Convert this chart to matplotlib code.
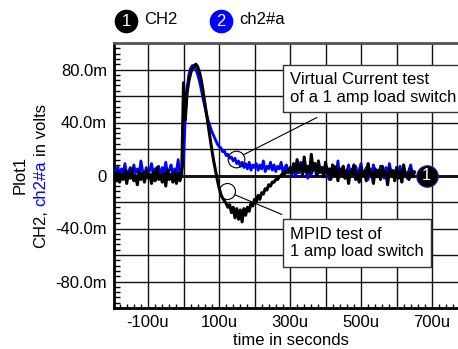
import numpy as np
import matplotlib
matplotlib.use('Agg')
import matplotlib.pyplot as plt
from matplotlib.ticker import MultipleLocator, FuncFormatter

plt.rcParams['font.family'] = ['Liberation Sans', 'DejaVu Sans']

# sample grid in microseconds, 5u steps from -195u to 650u
t_us = np.arange(-195, 651, 5)

# CH2 (black), values in mV
ch2 = [2, -4, 3, -5, 1, -3, 4, -6, 2, -2, 5, -4, 0, -7, 3, -3, 2, -5, 4, -2,
       1, -6, 3, -4, 6, -3, 0, -5, 2, -8, 4, -3, 1, -5, 3, -6, 2, -4, 1,
       70, 42, 62, 71, 77, 81, 83, 84, 82, 78, 72, 64, 55, 46, 37, 28, 19, 11, 4, -3,
       -9, -14, -17, -19, -21, -24, -22, -28, -24, -32, -25, -33, -26, -35, -25, -30, -24, -27, -21, -23,
       -18, -20, -15, -18, -13, -14, -10, -11, -7, -8, -5, -5, -3, -3, -1, 0, 2, 1, 4, 2,
       6, 2, 9, 3, 12, 4, 8, 1, 14, 3, 7, 2, 16, 4, 9, 0, 11, 3, 6, -1,
       10, 2, 5, -3, 8, 0, 6, -4, 5, 1, 7, -2, 4, -6, 3, 1, 8, -3, 2, -5,
       6, 0, 3, -4, 9, 1, 2, -6, 5, -1, 4, -3, 7, 0, 2, -7, 5, 1, 3, -4,
       6, -2, 3, -5, 8, 0, 2, -3, 5, -1, 2]

# ch2#a (blue), values in mV
ch2a = [4, 1, 7, -1, 5, 2, 9, 0, 3, 6, -2, 8, 2, 5, 1, 11, 3, -1, 6, 2,
        4, 9, 0, 5, 3, 7, -2, 6, 2, 10, 1, 4, 8, 0, 5, 3, 12, 1, 4,
        10, 45, 66, 76, 81, 83, 82, 80, 76, 71, 65, 58, 52, 46, 41, 37, 33, 30, 27, 24,
        22, 21, 18, 19, 15, 16, 13, 14, 11, 13, 9, 11, 7, 10, 6, 9, 5, 10, 4, 8,
        6, 9, 4, 8, 5, 11, 3, 7, 5, 10, 4, 8, 3, 7, 5, 10, 3, 6, 8, 2,
        5, 1, 8, -1, 4, 2, 10, 0, 6, 3, -2, 7, 1, 5, 9, -1, 4, 2, 6, 0,
        8, 3, -3, 5, 1, 7, 2, 11, 0, 4, 6, -2, 3, 8, 1, 5, -1, 7, 2, 4,
        9, 0, 3, 6, -3, 5, 1, 8, 2, 4, 0, 7, 3, -2, 6, 1, 9, 2, 4, -1,
        5, 3, 7, 0, 6, 2, -2, 4, 8, 1, 3]

x_labels = ['-100u', '100u', '300u', '500u', '700u']
y_labels = ['-80.0m', '-40.0m', '0', '40.0m', '80.0m']

t = t_us * 1e-6
v1 = np.array(ch2) * 1e-3
v2 = np.array(ch2a) * 1e-3

W, H = 458, 349
fig = plt.figure(figsize=(W / 100, H / 100), dpi=100)
ax = fig.add_axes([114 / W, 1 - 308 / H, 353.5 / W, 265 / H])
ax.set_xlim(-195.8e-6, 800e-6)
ax.set_ylim(-0.1, 0.1)

# grid
ax.xaxis.set_major_locator(MultipleLocator(100e-6))
ax.yaxis.set_major_locator(MultipleLocator(0.02))
ax.xaxis.set_minor_locator(MultipleLocator(20e-6))
ax.yaxis.set_minor_locator(MultipleLocator(0.004))
ax.grid(True, which='major', color='#111111', lw=1.0)
ax.axhline(0, color='black', lw=2, zorder=1.5)

def xfmt(v, pos):
    us = int(round(v * 1e6))
    s = '%du' % us
    return s if s in x_labels else ''

def yfmt(v, pos):
    mv = int(round(v * 1e3))
    s = '0' if mv == 0 else '%.1fm' % mv
    return s if s in y_labels else ''

ax.xaxis.set_major_formatter(FuncFormatter(xfmt))
ax.yaxis.set_major_formatter(FuncFormatter(yfmt))
ax.tick_params(which='major', length=0, labelsize=12, pad=5)
ax.tick_params(which='minor', direction='in', length=4, width=1, color='black')
ax.tick_params(axis='x', which='minor', length=3)
ax.tick_params(top=False, right=False, which='both')

for s in ['left', 'bottom']:
    ax.spines[s].set_linewidth(2)
ax.spines['top'].set_linewidth(2)
ax.spines['top'].set_color('#555555')
ax.spines['right'].set_visible(False)

# traces
ax.plot(t, v2, color='#0000ff', lw=2.0, zorder=3)
ax.plot(t, v1, color='black', lw=2.2, zorder=4)

# trace end label
lab_x = 685e-6
ax.plot([lab_x], [0], 'o', ms=15.5, mfc='black', mec='#2222aa', mew=0.8, zorder=6, clip_on=False)
ax.text(lab_x, 0, '1', color='white', ha='center', va='center', fontsize=12, zorder=7)

# callouts
ax.plot([148e-6], [0.0128], 'o', ms=12, mfc='none', mec='black', mew=0.8, zorder=5)
ax.plot([122e-6], [-0.012], 'o', ms=11.5, mfc='none', mec='black', mew=0.8, zorder=5)
ax.annotate('', xy=(148e-6, 0.0128), xytext=(376e-6, 0.0438),
            arrowprops=dict(arrowstyle='-', lw=0.8, color='black', shrinkA=0, shrinkB=6))
ax.annotate('', xy=(122e-6, -0.012), xytext=(277e-6, -0.0294),
            arrowprops=dict(arrowstyle='-', lw=0.8, color='black', shrinkA=0, shrinkB=6))
box = dict(boxstyle='square,pad=0.45', fc='white', ec='#333333', lw=1)
ax.text(300e-6, 0.0657, 'Virtual Current test\nof a 1 amp load switch', fontsize=12,
        ha='left', va='center', bbox=box, zorder=8, linespacing=1.2)
ax.text(300e-6, -0.051, 'MPID test of\n1 amp load switch', fontsize=12,
        ha='left', va='center', bbox=box, zorder=8, linespacing=1.2)

ax.set_xlabel('time in seconds', fontsize=12, labelpad=2)

# legend on top
for cx, col, num, name in [(126, 'black', '1', 'CH2'), (221, '#0000ff', '2', 'ch2#a')]:
    fig.lines.append(plt.Line2D([cx / W], [1 - 21 / H], marker='o', ms=16, color=col,
                                transform=fig.transFigure))
    fig.text(cx / W, 1 - 21 / H, num, color='white', ha='center', va='center', fontsize=12)
    fig.text((cx + 18) / W, 1 - 20 / H, name, color='black', ha='left', va='center', fontsize=12)

# y axis titles
fig.text(20 / W, 1 - 175 / H, 'Plot1', rotation=90, ha='center', va='center', fontsize=12)
fig.canvas.draw()
r = fig.canvas.get_renderer()
parts = [('CH2,', 'black'), ('ch2#a', '#0000ff'), ('in volts', 'black')]
gap = 12 * 0.28 * 100 / 72
texts = []
y = 0
for s, c in parts:
    tx = fig.text(41 / W, 0, s, rotation=90, color=c, ha='center', va='bottom', fontsize=12)
    h = tx.get_window_extent(r).height
    texts.append((tx, y))
    y += h + gap
total = y - gap
start = (H - 176) - total / 2
for tx, off in texts:
    tx.set_y((start + off) / H)

fig.savefig('out.png', dpi=100)
